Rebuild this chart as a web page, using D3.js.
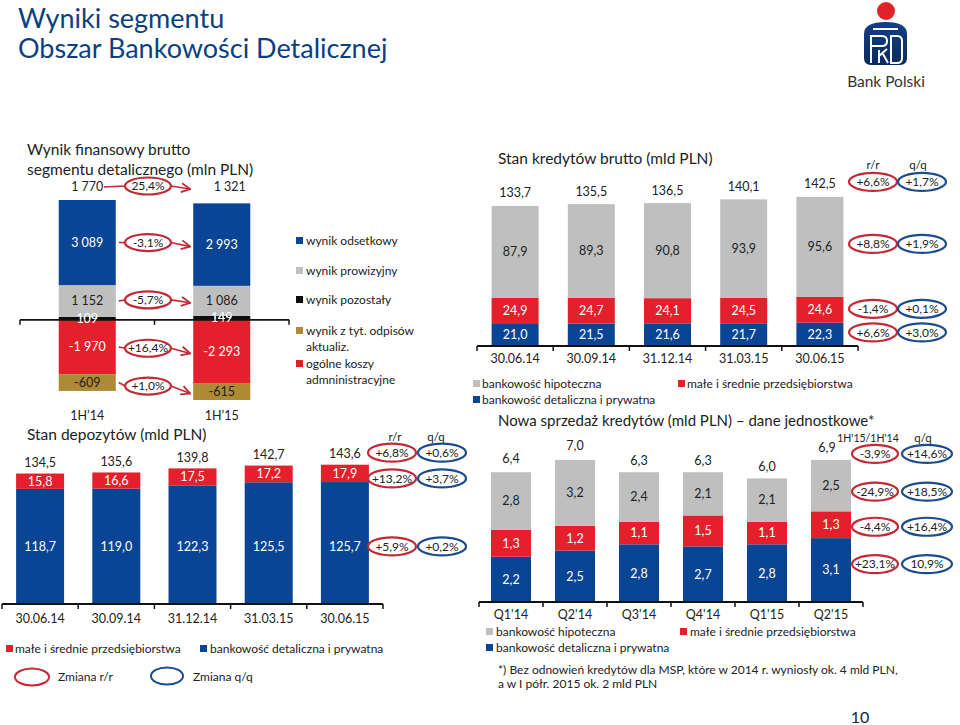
<!DOCTYPE html>
<html><head><meta charset="utf-8">
<script src="https://cdn.jsdelivr.net/npm/d3@7"></script>
<style>body{margin:0;background:#fff}svg{font-family:Lato,'Open Sans',sans-serif}</style>
</head><body><svg id="c" width="960" height="725"></svg>
<script>
// ---------- data ----------
const wfCategories = ["1H’14", "1H’15"];
const wfInterest = [3089, 2993];
const wfFees = [1152, 1086];
const wfOther = [109, 149];
const wfAdmin = [-1970, -2293];
const wfImpair = [-609, -615];
const wfTotals = [1770, 1321];
const wfChanges = ["25,4%", "-3,1%", "-5,7%", "+16,4%", "+1,0%"];
const wfLegend = ["wynik odsetkowy", "wynik prowizyjny", "wynik pozostały", "wynik z tyt. odpisów|aktualiz.", "ogólne koszy|admninistracyjne"];

const depDates = ["30.06.14", "30.09.14", "31.12.14", "31.03.15", "30.06.15"];
const depSme = [15.8, 16.6, 17.5, 17.2, 17.9];
const depRetail = [118.7, 119.0, 122.3, 125.5, 125.7];
const depTotals = [134.5, 135.6, 139.8, 142.7, 143.6];
const depYoY = ["+6,8%", "+13,2%", "+5,9%"];
const depQoQ = ["+0,6%", "+3,7%", "+0,2%"];

const loanDates = ["30.06.14", "30.09.14", "31.12.14", "31.03.15", "30.06.15"];
const loanMortgage = [87.9, 89.3, 90.8, 93.9, 95.6];
const loanSme = [24.9, 24.7, 24.1, 24.5, 24.6];
const loanRetail = [21.0, 21.5, 21.6, 21.7, 22.3];
const loanTotals = [133.7, 135.5, 136.5, 140.1, 142.5];
const loanYoY = ["+6,6%", "+8,8%", "-1,4%", "+6,6%"];
const loanQoQ = ["+1,7%", "+1,9%", "+0,1%", "+3,0%"];

const salesQuarters = ["Q1'14", "Q2'14", "Q3'14", "Q4'14", "Q1'15", "Q2'15"];
const salesMortgage = [2.8, 3.2, 2.4, 2.1, 2.1, 2.5];
const salesSme = [1.3, 1.2, 1.1, 1.5, 1.1, 1.3];
const salesRetail = [2.2, 2.5, 2.8, 2.7, 2.8, 3.1];
const salesTotals = [6.4, 7.0, 6.3, 6.3, 6.0, 6.9];
const salesHalf = ["-3,9%", "-24,9%", "-4,4%", "+23,1%"];
const salesQoQ = ["+14,6%", "+18,5%", "+16,4%", "10,9%"];

// ---------- style ----------
const C = {blue: "#0a4595", red: "#e3202c", gray: "#bfbfbf", black: "#0d0d0d", gold: "#ad8a33",
  ringRed: "#c22a36", ringBlue: "#1c4c8c", title: "#0c3f80", text: "#222"};
const FS = {val: 12.5, leg: 12, title: 15.5, cat: 12.5};
const svg = d3.select("#c");
const loc = d3.formatLocale({decimal: ",", thousands: " ", grouping: [3], currency: ["", ""], minus: "-"});
const f1 = loc.format(",.1f"), f0 = loc.format(",d");

function txt(x, y, s, o = {}) {
  return svg.append("text").attr("x", x).attr("y", y).attr("font-size", o.size || FS.leg)
    .attr("fill", o.fill || C.text).attr("text-anchor", o.anchor || "start")
    .attr("dy", o.dy || null).text(s);
}
function ring(cx, cy, rx, ry, color, label) {
  svg.append("ellipse").attr("cx", cx).attr("cy", cy).attr("rx", rx).attr("ry", ry)
    .attr("fill", "none").attr("stroke", color).attr("stroke-width", 2.2);
  txt(cx, cy, label, {anchor: "middle", dy: "0.35em", size: 12});
}
function sq(x, y, color, s = 7) {
  svg.append("rect").attr("x", x).attr("y", y).attr("width", s).attr("height", s).attr("fill", color);
}
function rowsOf(cats, obj) {
  return cats.map((c, i) => { const r = {cat: c}; for (const k in obj) r[k] = obj[k][i]; return r; });
}
function baseline(x, y0, labelPad) {
  const [r0, r1] = x.range();
  const n = x.domain().length, step = x.step();
  const g = svg.append("g");
  g.append("line").attr("x1", r0).attr("x2", r1).attr("y1", y0).attr("y2", y0)
    .attr("stroke", "#111").attr("stroke-width", 1.8);
  g.selectAll(".tk").data(d3.range(n + 1)).join("line")
    .attr("x1", i => r0 + i * step).attr("x2", i => r0 + i * step)
    .attr("y1", y0).attr("y2", y0 + 5).attr("stroke", "#111").attr("stroke-width", 1.5);
  const ax = svg.append("g").attr("transform", `translate(0,${y0})`)
    .call(d3.axisBottom(x).tickSize(0).tickPadding(labelPad));
  ax.select(".domain").remove();
  ax.selectAll("text").attr("font-size", FS.cat).attr("fill", C.text).attr("font-family", "Lato,'Open Sans',sans-serif");
}
function stackedBars(x, y, data, layers) {
  const st = d3.stack().keys(layers.map(l => l.key)).offset(d3.stackOffsetDiverging)(data);
  st.forEach((s, li) => {
    const L = layers[li];
    svg.append("g").selectAll("rect").data(s).join("rect")
      .attr("x", d => x(d.data.cat)).attr("width", x.bandwidth())
      .attr("y", d => y(Math.max(d[0], d[1]))).attr("height", d => Math.abs(y(d[0]) - y(d[1])))
      .attr("fill", L.color);
    if (L.label !== false) {
      svg.append("g").selectAll("text").data(s).join("text")
        .attr("x", d => x(d.data.cat) + x.bandwidth() / 2)
        .attr("y", d => L.labelY ? L.labelY(d) : y((d[0] + d[1]) / 2))
        .attr("dy", "0.35em").attr("text-anchor", "middle").attr("font-size", FS.val)
        .attr("fill", L.textColor).text(d => L.fmt(d.data[L.key]));
    }
  });
  return st;
}

// ---------- slide title & logo ----------
txt(18, 28, "Wyniki segmentu", {size: 27, fill: C.title});
txt(18, 58, "Obszar Bankowości Detalicznej", {size: 27, fill: C.title});
const defs = svg.append("defs");
const grad = defs.append("linearGradient").attr("id", "lg").attr("x1", 0).attr("y1", 0).attr("x2", 0).attr("y2", 1);
grad.append("stop").attr("offset", 0).attr("stop-color", "#123f86");
grad.append("stop").attr("offset", 1).attr("stop-color", "#0a2a5e");
svg.append("circle").attr("cx", 886).attr("cy", 11).attr("r", 9).attr("fill", "#e1222b");
svg.append("path").attr("d", "M864,34 Q864,22 885.5,22 Q907,22 907,34 L907,58 Q907,65 900,65 L871,65 Q864,65 864,58 Z").attr("fill", "url(#lg)");
svg.append("path").attr("d", "M873,29 L898,29 M871,63 L871,36 L882,36 Q887,36 887,41 Q887,46 882,46 L871,46 M879,63 L879,50 M879,56 L887,49 M883,54 L888,63 M891,36 L897,36 Q902,36 902,41 L902,58 Q902,63 897,63 L891,63 Z")
  .attr("fill", "none").attr("stroke", "#fff").attr("stroke-width", 2);
txt(886, 87, "Bank Polski", {size: 15.5, anchor: "middle", fill: "#333"});

// ---------- waterfall: Wynik finansowy brutto ----------
txt(27, 155, "Wynik finansowy brutto", {size: FS.title});
txt(27, 175, "segmentu detalicznego (mln PLN)", {size: FS.title});
const wfData = rowsOf(wfCategories, {other: wfOther, fees: wfFees, interest: wfInterest, admin: wfAdmin, impair: wfImpair});
const xW = d3.scaleBand().domain(wfCategories).range([20, 289]).paddingInner(0.576).paddingOuter(0.288);
const yW = d3.scaleLinear().domain([-2908, 4350]).range([400, 200]);
stackedBars(xW, yW, wfData, [
  {key: "other", color: C.black, textColor: "#fff", fmt: f0},
  {key: "fees", color: C.gray, textColor: C.text, fmt: f0},
  {key: "interest", color: C.blue, textColor: "#fff", fmt: f0},
  {key: "admin", color: C.red, textColor: "#fff", fmt: f0},
  {key: "impair", color: C.gold, textColor: C.text, fmt: f0}
]);
(function () {
  const r0 = 20, r1 = 289, step = xW.step(), y0 = yW(0);
  svg.append("line").attr("x1", r0).attr("x2", r1).attr("y1", y0).attr("y2", y0).attr("stroke", "#111").attr("stroke-width", 1.8);
  svg.selectAll(".wtk").data(d3.range(3)).join("line").attr("x1", i => r0 + i * step).attr("x2", i => r0 + i * step)
    .attr("y1", y0).attr("y2", y0 + 5).attr("stroke", "#111").attr("stroke-width", 1.5);
})();
wfData.forEach(d => txt(xW(d.cat) + xW.bandwidth() / 2, yW(d.other / 2), f0(d.other), {anchor: "middle", dy: "0.35em", fill: "#fff", size: FS.val}));
svg.append("g").attr("transform", `translate(0,${yW(-2908) + 11})`).call(d3.axisBottom(xW).tickSize(0).tickPadding(0))
  .call(g => g.select(".domain").remove())
  .selectAll("text").attr("font-size", FS.cat).attr("fill", C.text).attr("font-family", "Lato,'Open Sans',sans-serif");
const wfTopY = yW(d3.max(wfData, d => d.other + d.fees + d.interest)) - 13;
wfTotals.forEach((t, i) => txt(xW(wfCategories[i]) + xW.bandwidth() / 2 + (i ? 8 : 0), wfTopY, f0(t), {anchor: "middle", dy: "0.35em", size: FS.val}));
defs.append("marker").attr("id", "ah").attr("viewBox", "0 0 10 10").attr("refX", 9).attr("refY", 5)
  .attr("markerWidth", 7).attr("markerHeight", 7).attr("orient", "auto-start-reverse")
  .append("path").attr("d", "M1,1 L9,5 L1,9").attr("fill", "none").attr("stroke", C.ringRed).attr("stroke-width", 1.6);
const wfRowY = (d, k) => {
  if (k === "total") return wfTopY;
  if (k === "interest") return yW(d.other + d.fees + d.interest / 2);
  if (k === "fees") return yW(d.other + d.fees / 2);
  if (k === "admin") return yW(d.admin / 2);
  return yW(d.admin + d.impair / 2);
};
["total", "interest", "fees", "admin", "impair"].forEach((k, i) => {
  const ya = wfRowY(wfData[0], k), yb = wfRowY(wfData[1], k);
  const cx = 148, cy = (ya + yb) / 2 - 1;
  const xs = k === "total" ? 104 : xW(wfCategories[0]) + xW.bandwidth() + 3;
  const xe = xW(wfCategories[1]) - 3;
  svg.append("path").attr("d", `M${xs},${ya} L${cx - 23},${cy}`).attr("stroke", C.ringRed).attr("stroke-width", 1.6).attr("fill", "none");
  svg.append("path").attr("d", `M${cx + 23},${cy} L${xe},${yb + 2}`).attr("stroke", C.ringRed).attr("stroke-width", 1.6)
    .attr("fill", "none").attr("marker-end", "url(#ah)");
  ring(cx, cy, 23, 8.5, C.ringRed, wfChanges[i]);
});
const wfLegColors = [C.blue, C.gray, C.black, C.gold, C.red];
const wfLegY = [241, 271, 300, 331, 364];
wfLegend.forEach((s, i) => {
  sq(296, wfLegY[i] - 4, wfLegColors[i]);
  s.split("|").forEach((line, j) => txt(306, wfLegY[i] + 4 + j * 16, line));
});

// ---------- deposits ----------
txt(27, 440, "Stan depozytów  (mld PLN)", {size: FS.title});
const depData = rowsOf(depDates, {retail: depRetail, sme: depSme});
const xD = d3.scaleBand().domain(depDates).range([2, 383]).paddingInner(0.37).paddingOuter(0.185);
const yD = d3.scaleLinear().domain([0, 150]).range([604, 458.5]);
const blueLabY = yD(d3.min(depRetail) / 2);
stackedBars(xD, yD, depData, [
  {key: "retail", color: C.blue, textColor: "#fff", fmt: f1, labelY: () => blueLabY},
  {key: "sme", color: C.red, textColor: "#fff", fmt: f1}
]);
baseline(xD, 604, 10);
depTotals.forEach((t, i) => txt(xD(depDates[i]) + xD.bandwidth() / 2, yD(t) - 11, f1(t), {anchor: "middle", dy: "0.35em", size: FS.val}));
txt(395, 441, "r/r", {anchor: "middle", size: 11.5});
txt(436, 441, "q/q", {anchor: "middle", size: 11.5});
{
  const L = depData.length - 1, d = depData[L];
  const rowsY = [yD(depTotals[L]) - 12, yD(d.retail + d.sme / 2) + 5, blueLabY];
  rowsY.forEach((ry, j) => { ring(392, ry, 24, 9, C.ringRed, depYoY[j]); ring(442, ry, 24, 9, C.ringBlue, depQoQ[j]); });
}
sq(6, 645, C.red);
txt(15, 653, "małe i średnie przedsiębiorstwa");
sq(200, 645, C.blue);
txt(210, 653, "bankowość detaliczna i prywatna");
svg.append("ellipse").attr("cx", 32).attr("cy", 677).attr("rx", 17).attr("ry", 8.5).attr("fill", "none").attr("stroke", C.ringRed).attr("stroke-width", 2);
txt(58, 681, "Zmiana r/r");
svg.append("ellipse").attr("cx", 167).attr("cy", 676).attr("rx", 16).attr("ry", 8.5).attr("fill", "none").attr("stroke", C.ringBlue).attr("stroke-width", 2);
txt(193, 681, "Zmiana q/q");

// ---------- loans ----------
txt(498, 164, "Stan kredytów brutto (mld PLN)", {size: FS.title});
const loanData = rowsOf(loanDates, {retail: loanRetail, sme: loanSme, mortgage: loanMortgage});
const xL = d3.scaleBand().domain(loanDates).range([477, 858]).paddingInner(0.383).paddingOuter(0.1915);
const yL = d3.scaleLinear().domain([0, 150]).range([346, 189]);
stackedBars(xL, yL, loanData, [
  {key: "retail", color: C.blue, textColor: "#fff", fmt: f1},
  {key: "sme", color: C.red, textColor: "#fff", fmt: f1},
  {key: "mortgage", color: C.gray, textColor: C.text, fmt: f1}
]);
baseline(xL, 346, 8);
loanTotals.forEach((t, i) => txt(xL(loanDates[i]) + xL.bandwidth() / 2, yL(t) - 13, f1(t), {anchor: "middle", dy: "0.35em", size: FS.val}));
txt(873, 169, "r/r", {anchor: "middle", size: 11.5});
txt(918, 169, "q/q", {anchor: "middle", size: 11.5});
{
  const L = loanData.length - 1, d = loanData[L];
  const rowsY = [yL(loanTotals[L]) - 15, yL(d.retail + d.sme + d.mortgage / 2) - 3, yL(d.retail + d.sme / 2) - 1, yL(d.retail / 2) - 2];
  rowsY.forEach((ry, j) => { ring(873, ry, 24, 9, C.ringRed, loanYoY[j]); ring(922, ry, 24, 9, C.ringBlue, loanQoQ[j]); });
}
sq(473, 380, C.gray);
txt(482, 388, "bankowość hipoteczna");
sq(678, 380, C.red);
txt(687, 388, "małe i średnie przedsiębiorstwa");
sq(473, 396, C.blue);
txt(482, 404, "bankowość detaliczna i prywatna");

// ---------- new sales ----------
txt(498, 426, "Nowa sprzedaż kredytów (mld PLN) – dane jednostkowe*", {size: 15});
const salesData = rowsOf(salesQuarters, {retail: salesRetail, sme: salesSme, mortgage: salesMortgage});
const xS = d3.scaleBand().domain(salesQuarters).range([479, 863]).paddingInner(0.375).paddingOuter(0.1875);
const yS = d3.scaleLinear().domain([0, 7.5]).range([602, 447.5]);
stackedBars(xS, yS, salesData, [
  {key: "retail", color: C.blue, textColor: "#fff", fmt: f1},
  {key: "sme", color: C.red, textColor: "#fff", fmt: f1},
  {key: "mortgage", color: C.gray, textColor: C.text, fmt: f1}
]);
baseline(xS, 602, 8);
salesTotals.forEach((t, i) => txt(xS(salesQuarters[i]) + xS.bandwidth() / 2 - (i === 5 ? 4 : 0), yS(t) - 12, f1(t), {anchor: "middle", dy: "0.35em", size: FS.val}));
txt(868, 442, "1H'15/1H'14", {anchor: "middle", size: 10.5});
txt(923, 442, "q/q", {anchor: "middle", size: 11.5});
{
  const L = salesData.length - 1, d = salesData[L];
  const rowsY = [yS(salesTotals[L]) - 6, yS(d.retail + d.sme + d.mortgage / 2) + 6, yS(d.retail + d.sme / 2) + 2, yS(d.retail / 2) - 6];
  rowsY.forEach((ry, j) => { ring(875, ry, 23, 9, C.ringRed, salesHalf[j]); ring(927, ry, 25, 9, C.ringBlue, salesQoQ[j]); });
}
sq(486, 628, C.gray);
txt(496, 636, "bankowość hipoteczna");
sq(680, 628, C.red);
txt(690, 636, "małe i średnie przedsiębiorstwa");
sq(486, 644, C.blue);
txt(496, 652, "bankowość detaliczna i prywatna");
txt(498, 674, "*) Bez odnowień kredytów dla MSP, które w 2014 r. wyniosły ok. 4 mld PLN,");
txt(498, 688, "a w I półr. 2015 ok. 2 mld PLN");
txt(860, 723, "10", {size: 16, anchor: "middle"});
</script></body></html>
